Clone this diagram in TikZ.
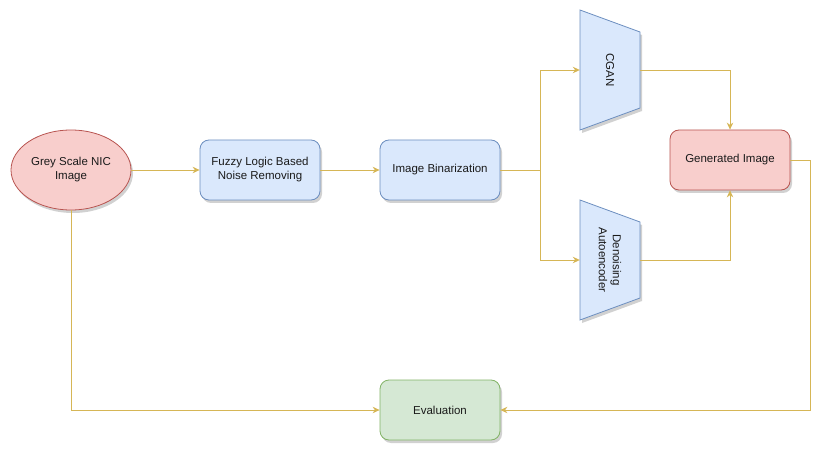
\documentclass[tikz,border=0pt]{standalone}
\usepackage{fontspec}
\setmainfont{Liberation Sans}
\usetikzlibrary{shapes.geometric,shadows,arrows.meta,calc}
\definecolor{bfill}{HTML}{DAE8FC}
\definecolor{bdraw}{HTML}{6C8EBF}
\definecolor{rfill}{HTML}{F8CECC}
\definecolor{rdraw}{HTML}{B85450}
\definecolor{gfill}{HTML}{D5E8D4}
\definecolor{gdraw}{HTML}{82B366}
\definecolor{edgec}{HTML}{D6B656}
\definecolor{txt}{HTML}{1A1A1A}
\tikzset{
  shade/.style={drop shadow={shadow xshift=2pt,shadow yshift=-3pt,opacity=0.18,fill=black}},
  lbl/.style={font=\fontsize{11.5}{14}\selectfont, text=txt, align=center},
  box/.style={lbl, rectangle, rounded corners=9pt, minimum width=120pt, minimum height=60pt, inner sep=0pt, line width=0.8pt, shade},
  bluebox/.style={box, fill=bfill, draw=bdraw},
  redbox/.style={box, fill=rfill, draw=rdraw},
  greenbox/.style={box, fill=gfill, draw=gdraw},
  trapbody/.style={fill=bfill, draw=bdraw, line width=0.8pt, shade},
  holder/.style={rectangle, minimum width=60pt, minimum height=120pt, inner sep=0pt},
  edge/.style={draw=edgec, line width=0.9pt, -{Stealth[length=7pt,width=6.5pt]}},
}
\begin{document}
\begin{tikzpicture}[x=1pt,y=-1pt]
\useasboundingbox (0,0) rectangle (835,457);
% ellipse
\node (grey) [lbl, ellipse, minimum width=120pt, minimum height=80pt, inner sep=0pt, fill=rfill, draw=rdraw, line width=0.8pt, shade] at (71,170) {Grey Scale NIC\\Image};
\node (fuzzy) [bluebox] at (260,170) {Fuzzy Logic Based\\Noise Removing};
\node (bin) [bluebox] at (440,170) {Image Binarization};
% trapezoids
\path[trapbody] (580,10) -- (640,32) -- (640,108) -- (580,130) -- cycle;
\node (cgan) [holder] at (610,70) {};
\node (cgantext) [lbl, rotate=-90] at (cgan) {CGAN};
\path[trapbody] (580,200) -- (640,222) -- (640,298) -- (580,320) -- cycle;
\node (dae) [holder] at (610,260) {};
\node (daetext) [lbl, rotate=-90] at (dae) {Denoising\\Autoencoder};
\node (gen) [redbox] at (730,160) {Generated Image};
\node (eval) [greenbox] at (440,410) {Evaluation};
% connectors
\draw[edge] (grey.east) -- (fuzzy.west);
\draw[edge] (fuzzy.east) -- (bin.west);
\coordinate (split) at ($(bin.east)+(40,0)$);
\draw[edge] (bin.east) -- (split) |- (cgan.west);
\draw[edge] (split) |- (dae.west);
\draw[edge] (cgan.east) -| (gen.north);
\draw[edge] (dae.east) -| (gen.south);
\coordinate (rt) at ($(gen.east)+(20,0)$);
\draw[edge] (gen.east) -- (rt) |- (eval.east);
\draw[edge] (grey.south) |- (eval.west);
\end{tikzpicture}
\end{document}
